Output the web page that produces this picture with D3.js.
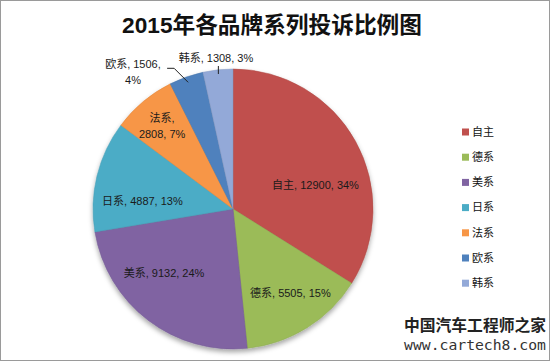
<!DOCTYPE html>
<html><head><meta charset="utf-8">
<script src="https://cdn.jsdelivr.net/npm/d3@7"></script>
<style>
html,body{margin:0;padding:0;background:#fff;}
svg{display:block;}
text{font-family:"Liberation Sans","Noto Sans CJK SC",sans-serif;}
</style></head>
<body>
<script>
const categories = ["自主","德系","美系","日系","法系","欧系","韩系"];
const values = [12900,5505,9132,4887,2808,1506,1308];
const percents = ["34%","15%","24%","13%","7%","4%","3%"];
const colors = ["#C0504D","#9BBB59","#8064A2","#4BACC6","#F79646","#4F81BD","#93A9D8"];
const title = "2015年各品牌系列投诉比例图";

const W = 550, H = 361;
const cx = 233, cy = 209, R = 140;

const svg = d3.select("body").append("svg").attr("width", W).attr("height", H);
const defs = svg.append("defs");
const f = defs.append("filter").attr("id","sh").attr("x","-20%").attr("y","-20%").attr("width","140%").attr("height","140%");
f.append("feDropShadow").attr("dx",0).attr("dy",3).attr("stdDeviation",2.5).attr("flood-color","#000").attr("flood-opacity",0.35);

svg.append("rect").attr("x",0.5).attr("y",0.5).attr("width",W-1).attr("height",H-1)
  .attr("fill","#fff").attr("stroke","#9a9a9a");

function fitWidth(sel, target){
  const n = sel.node();
  const w = n.getComputedTextLength();
  const fs = parseFloat(sel.attr("font-size"));
  if (w > 0) sel.attr("font-size", fs * target / w);
}

const tt = svg.append("text").attr("x",272).attr("y",25).attr("text-anchor","middle")
  .attr("dominant-baseline","central").attr("font-size",20).attr("font-weight","bold")
  .attr("fill","#111").text(title);
fitWidth(tt, 300);

const data = categories.map((c,i)=>({cat:c, value:values[i], pct:percents[i], color:colors[i]}));
const pie = d3.pie().value(d=>d.value).sort(null);
const arcs = pie(data);
const arc = d3.arc().innerRadius(0).outerRadius(R);

const g = svg.append("g").attr("transform",`translate(${cx},${cy})`);
const pg = g.append("g").attr("filter","url(#sh)");
pg.selectAll("path").data(arcs).enter().append("path")
  .attr("d",arc).attr("fill",d=>d.data.color)
  .attr("stroke",d=>d3.color(d.data.color).darker(0.3)).attr("stroke-width",0.5);

// label placement: centroid at 0.6R plus offsets (style), lines per label
const lblArc = d3.arc().innerRadius(R*0.6).outerRadius(R*0.6);
const lblOff = [[9,17],[13,13],[-18,-3],[-9,12],[-17,-18],[-72,-58],[-8,-67]];
const lblLines = [
  d=>[`${d.cat}, ${d.value}, ${d.pct}`],
  d=>[`${d.cat}, ${d.value}, ${d.pct}`],
  d=>[`${d.cat}, ${d.value}, ${d.pct}`],
  d=>[`${d.cat}, ${d.value}, ${d.pct}`],
  d=>[`${d.cat},`, `${d.value}, ${d.pct}`],
  d=>[`${d.cat}, ${d.value},`, `${d.pct}`],
  d=>[`${d.cat}, ${d.value}, ${d.pct}`]
];
arcs.forEach((a,i)=>{
  const c = lblArc.centroid(a);
  const x = c[0]+lblOff[i][0], y = c[1]+lblOff[i][1];
  const lines = lblLines[i](a.data);
  const t = g.append("text").attr("text-anchor","middle").attr("font-size",11).attr("fill","#1a1a1a");
  lines.forEach((ln,k)=>{
    t.append("tspan").attr("x",x).attr("y", y + (k-(lines.length-1)/2)*16).attr("dy","0.35em").text(ln);
  });
});

// leader lines for small outer labels
function edge(a, rr){ const m=(a.startAngle+a.endAngle)/2; return [Math.sin(m)*rr, -Math.cos(m)*rr]; }
const ou = edge(arcs[5], R*0.96);
g.append("polyline").attr("points",`${ou[0]},${ou[1]} ${ou[0]-14},${ou[1]-14} ${ou[0]-21},${ou[1]-14}`)
  .attr("fill","none").attr("stroke","#222").attr("stroke-width",1);
const kr = edge(arcs[6], R*0.97);
g.append("line").attr("x1",kr[0]).attr("y1",kr[1]).attr("x2",kr[0]).attr("y2",kr[1]-8)
  .attr("stroke","#222").attr("stroke-width",1);

// legend
const lg = svg.append("g");
data.forEach((d,i)=>{
  const y = 132 + i*25.2;
  lg.append("rect").attr("x",462).attr("y",y-3.5).attr("width",7).attr("height",7).attr("fill",d.color);
  lg.append("text").attr("x",472).attr("y",y).attr("dy","0.35em").attr("font-size",11).attr("fill","#111").text(d.cat);
});

// site mark bottom-right
const s1 = svg.append("text").attr("x",475).attr("y",324).attr("text-anchor","middle").attr("dominant-baseline","central")
  .attr("font-size",15).attr("font-weight","bold").attr("fill","#222")
  .style("font-family","'Noto Sans CJK SC'").text("中国汽车工程师之家");
fitWidth(s1, 142);
const s2 = svg.append("text").attr("x",475).attr("y",344).attr("text-anchor","middle").attr("dominant-baseline","central")
  .attr("font-size",15).attr("fill","#333")
  .style("font-family","'DejaVu Sans Mono',monospace").text("www.cartech8.com");
fitWidth(s2, 142);
</script>
</body></html>
